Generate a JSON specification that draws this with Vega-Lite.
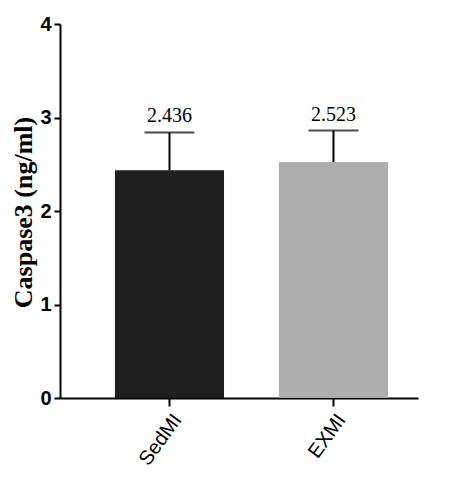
{
  "$schema": "https://vega.github.io/schema/vega-lite/v6.json",
  "autosize": "none",
  "padding": {"left": 60, "top": 24, "right": 56, "bottom": 88},
  "width": 358,
  "height": 374,
  "background": "white",
  "config": {"view": {"stroke": null}},
  "data": {"values": [
    {"group": "SedMI", "mean": 2.436, "upper": 2.84, "label": "2.436"},
    {"group": "EXMI", "mean": 2.523, "upper": 2.86, "label": "2.523"}
  ]},
  "encoding": {
    "x": {"field": "group", "type": "nominal", "sort": ["SedMI", "EXMI"],
      "scale": {"paddingInner": 0.335, "paddingOuter": 0.259, "align": 0.647},
      "axis": {"title": null, "labelAngle": -54, "labelAlign": "right", "labelBaseline": "top",
        "labelFont": "Liberation Sans", "labelFontSize": 20, "labelColor": "black", "labelPadding": 4,
        "domainColor": "black", "domainWidth": 2, "tickColor": "black", "tickWidth": 2, "tickSize": 8}}
  },
  "layer": [
    {"mark": {"type": "bar"},
      "encoding": {
        "y": {"field": "mean", "type": "quantitative", "scale": {"domain": [0, 4], "nice": false},
          "axis": {"values": [0, 1, 2, 3, 4], "format": "d", "grid": false, "title": "Caspase3 (ng/ml)",
            "titleFont": "Liberation Serif", "titleFontSize": 26, "titleFontWeight": "bold", "titleColor": "black",
            "titleAngle": 270, "titleX": -37, "titleY": 188, "titleAlign": "center", "titleBaseline": "middle",
            "labelFont": "Liberation Sans", "labelFontSize": 20, "labelFontWeight": "bold", "labelColor": "black",
            "labelPadding": 3, "domainColor": "black", "domainWidth": 2, "tickColor": "black", "tickWidth": 2, "tickSize": 6}},
        "color": {"field": "group", "type": "nominal", "scale": {"domain": ["SedMI", "EXMI"], "range": ["#1e1e1e", "#aeaeae"]}, "legend": null}
      }},
    {"mark": {"type": "rule", "color": "black", "strokeWidth": 2},
      "encoding": {"y": {"field": "mean", "type": "quantitative"}, "y2": {"field": "upper"}}},
    {"mark": {"type": "tick", "color": "black", "thickness": 2, "size": 50, "orient": "horizontal"},
      "encoding": {"y": {"field": "upper", "type": "quantitative"}}},
    {"mark": {"type": "text", "font": "Liberation Serif", "fontSize": 20, "color": "black", "baseline": "bottom", "dy": -6},
      "encoding": {"y": {"field": "upper", "type": "quantitative"}, "text": {"field": "label"}}}
  ]
}
